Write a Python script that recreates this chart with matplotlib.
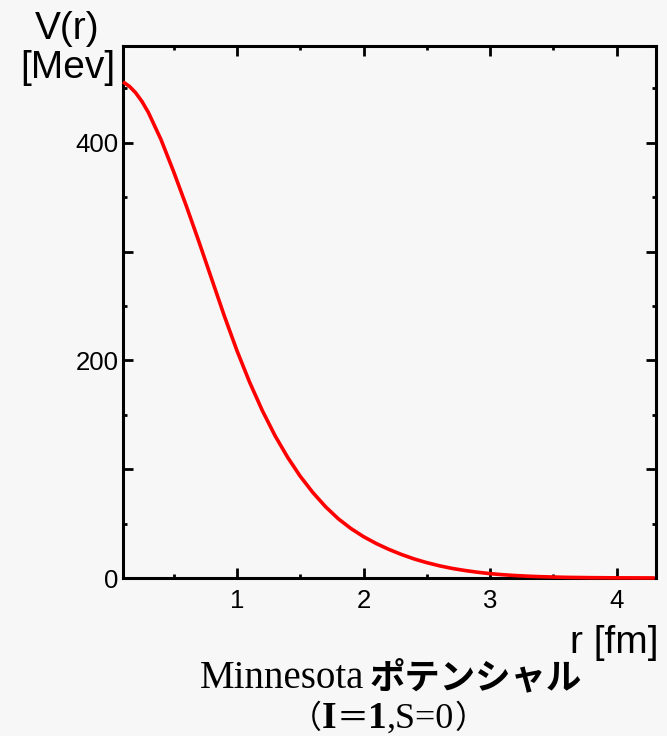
import matplotlib
matplotlib.use("Agg")
import matplotlib.pyplot as plt
from matplotlib.ticker import MultipleLocator, FixedLocator, FuncFormatter

# Data
r_fm = [0.1, 0.15, 0.2, 0.25, 0.3, 0.4, 0.5, 0.6, 0.7, 0.8, 0.9, 1.0,
        1.1, 1.2, 1.3, 1.4, 1.5, 1.6, 1.7, 1.8, 1.9, 2.0,
        2.1, 2.2, 2.3, 2.4, 2.5, 2.6, 2.7, 2.8, 2.9, 3.0,
        3.1, 3.2, 3.3, 3.4, 3.6, 3.8, 4.0, 4.3]
V_mev = [456, 452, 446, 438, 428, 403, 373.5, 342, 309, 275, 241, 209,
         180, 154, 131, 111, 93.5, 78.5, 65.5, 54.5, 45.5, 38,
         31.7, 26.3, 21.6, 17.5, 14.1, 11.2, 8.8, 6.9, 5.3, 4.0,
         3.0, 2.25, 1.65, 1.2, 0.6, 0.3, 0.15, 0.05]
x_ticks = [1, 2, 3, 4]
y_labelled = [0, 200, 400]

BG = "#f7f7f7"
W, H = 667, 736
fig = plt.figure(figsize=(W / 100, H / 100), dpi=100, facecolor=BG)
ax = fig.add_axes([123 / W, 1 - 578 / H, (656 - 123) / W, (578 - 46) / H])
ax.set_facecolor(BG)

ax.plot(r_fm, V_mev, color="#ff0000", lw=2.6, solid_capstyle="butt",
        solid_joinstyle="round", clip_on=False, zorder=3)

ax.set_xlim(0.1, 4.31)
ax.set_ylim(0, 489)

for s in ax.spines.values():
    s.set_linewidth(2.2)
    s.set_color("black")

ax.xaxis.set_major_locator(FixedLocator(x_ticks))
ax.xaxis.set_minor_locator(MultipleLocator(0.5))
ax.yaxis.set_major_locator(MultipleLocator(100))
ax.yaxis.set_minor_locator(MultipleLocator(50))
ax.yaxis.set_major_formatter(FuncFormatter(lambda v, p: f"{int(round(v))}" if int(round(v)) in y_labelled else ""))

ax.tick_params(which="both", direction="in", top=True, right=True, color="black")
ax.tick_params(which="major", length=7, width=2)
ax.tick_params(which="minor", length=3, width=2)
ax.tick_params(axis="x", which="major", pad=8)
ax.tick_params(axis="y", which="major", pad=3)
for lab in ax.get_xticklabels() + ax.get_yticklabels():
    lab.set_fontfamily("Liberation Sans")
    lab.set_fontsize(18.5)

sans = "Liberation Sans"
fig.text(67 / W, 1 - 29 / H, "V(r)", fontsize=28, family=sans, ha="center", va="center")
fig.text(68 / W, 1 - 68 / H, "[Mev]", fontsize=28, family=sans, ha="center", va="center")
fig.text(614 / W, 1 - 643 / H, "r [fm]", fontsize=28, family=sans, ha="center", va="center")

# Title made of pieces with different fonts/weights
renderer = fig.canvas.get_renderer()

def draw_pieces(pieces, cx, baseline_y):
    texts = []
    for s, kw in pieces:
        t = fig.text(0, 0, s, transform=None, va="baseline", ha="left", **kw)
        texts.append(t)
    widths = [t.get_window_extent(renderer).width for t in texts]
    total = sum(widths)
    x = cx - total / 2
    for t, w in zip(texts, widths):
        t.set_position((x, baseline_y))
        x += w

serif = ["Liberation Serif", "Noto Sans CJK JP"]
cjk = ["Noto Sans CJK JP"]
draw_pieces([
    ("Minnesota", dict(family=serif, fontsize=28)),
    (" ", dict(family=serif, fontsize=14)),
    ("ポテンシャル", dict(family=cjk, fontsize=25.5, weight="bold")),
], 391, H - 688)
draw_pieces([
    ("（", dict(family=cjk, fontsize=23)),
    ("I", dict(family=serif, fontsize=27, weight="bold")),
    ("＝", dict(family=cjk, fontsize=23)),
    ("1", dict(family=serif, fontsize=27, weight="bold")),
    (",S=0", dict(family=serif, fontsize=26)),
    ("）", dict(family=cjk, fontsize=23)),
], 388, H - 728)

fig.savefig("out.png", dpi=100, facecolor=BG)
